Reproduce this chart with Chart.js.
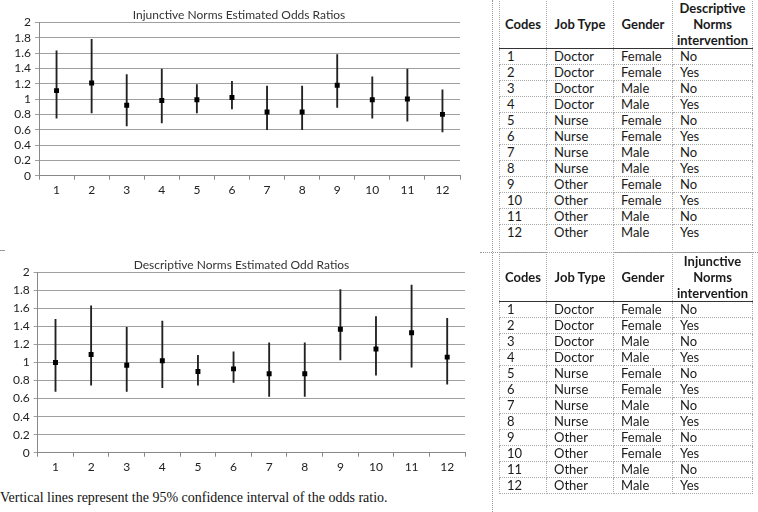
<!DOCTYPE html>
<html>
<head>
<meta charset="utf-8">
<script src="https://cdn.jsdelivr.net/npm/chart.js@4.4.0/dist/chart.umd.min.js"></script>
<style>
  body { margin: 0; width: 758px; height: 512px; background: #fff; position: relative; overflow: hidden; font-family: Lato, sans-serif; }
  canvas { position: absolute; left: 0; }
  #c1 { top: 0; }
  #c2 { top: 250px; }
  .vline { position: absolute; left: 492px; top: 0; height: 512px; border-left: 1px dotted #999; }
  .hline { position: absolute; left: 480px; top: 252px; width: 278px; border-top: 1px dotted #999; }
  .tick { position: absolute; left: 0; top: 250px; width: 5px; border-top: 1px solid #999; }
  table { position: absolute; left: 499px; border-collapse: collapse; table-layout: fixed; font-size: 13px; color: #1a1a1a; }
  #t1 { top: -1px; }
  #t2 { top: 252px; }
  td, th { border: 1px dotted #aaa; padding: 0 0 0 7px; height: 15px; line-height: 15px; white-space: nowrap; text-align: left; }
  th { font-weight: bold; text-align: center; padding: 0; line-height: 16px; height: 47px; border-bottom: 1.5px solid #333; }
  tr.last td { height: 25px; vertical-align: top; border-bottom: none; }
  .note { position: absolute; left: 0; top: 490px; font-family: "Liberation Serif", serif; font-size: 14px; color: #111; }
</style>
</head>
<body>
<canvas id="c1" width="478" height="200"></canvas>
<canvas id="c2" width="483" height="230"></canvas>
<div class="vline"></div>
<div class="hline"></div>
<div class="tick"></div>
<table id="t1"></table>
<table id="t2"></table>
<div class="note">Vertical lines represent the 95% confidence interval of the odds ratio.</div>
<script>
// codes on the x axis / table rows
const codes = ['1', '2', '3', '4', '5', '6', '7', '8', '9', '10', '11', '12'];

// injunctive norms: odds ratio and 95% CI
const injOdds = [1.11, 1.21, 0.92, 0.98, 0.99, 1.02, 0.83, 0.83, 1.18, 0.99, 1.00, 0.80];
const injLow  = [0.75, 0.82, 0.65, 0.69, 0.82, 0.87, 0.60, 0.60, 0.89, 0.75, 0.71, 0.57];
const injHigh = [1.63, 1.78, 1.32, 1.39, 1.19, 1.23, 1.17, 1.17, 1.58, 1.29, 1.39, 1.12];

// descriptive norms: odds ratio and 95% CI
const descOdds = [1.00, 1.09, 0.97, 1.02, 0.90, 0.93, 0.875, 0.875, 1.37, 1.15, 1.33, 1.06];
const descLow  = [0.68, 0.75, 0.68, 0.72, 0.75, 0.78, 0.625, 0.625, 1.03, 0.86, 0.95, 0.76];
const descHigh = [1.48, 1.63, 1.39, 1.46, 1.08, 1.12, 1.22, 1.22, 1.81, 1.51, 1.86, 1.49];

// table columns
const jobTypes = ['Doctor', 'Doctor', 'Doctor', 'Doctor', 'Nurse', 'Nurse', 'Nurse', 'Nurse', 'Other', 'Other', 'Other', 'Other'];
const genders = ['Female', 'Female', 'Male', 'Male', 'Female', 'Female', 'Male', 'Male', 'Female', 'Female', 'Male', 'Male'];
const intervention = ['No', 'Yes', 'No', 'Yes', 'No', 'Yes', 'No', 'Yes', 'No', 'Yes', 'No', 'Yes'];

const yMin = 0, yMax = 2, yStep = 0.2;

const font = { family: 'Lato', size: 12 };

function makeChart(id, title, odds, low, high, opt) {
    const ctx = document.getElementById(id).getContext('2d');
    return new Chart(ctx, {
        type: 'bar',
        data: {
            labels: codes,
            datasets: [{
                type: 'line',
                data: odds,
                showLine: false,
                pointStyle: 'rect',
                pointRadius: 3.5,
                pointBackgroundColor: '#000',
                pointBorderWidth: 0,
                order: 0
            }, {
                type: 'bar',
                data: low.map((l, i) => [l, high[i]]),
                backgroundColor: '#222',
                barThickness: 1.2,
                order: 1
            }]
        },
        options: {
            responsive: false,
            animation: false,
            layout: { padding: 0 },
            plugins: {
                legend: { display: false },
                tooltip: { enabled: false },
                title: {
                    display: true,
                    text: title,
                    color: '#333',
                    font: { family: 'Lato', size: 12, weight: 'normal' },
                    padding: { top: opt.titleTop, bottom: 0 }
                }
            },
            scales: {
                x: {
                    grid: { drawOnChartArea: false, tickLength: 4, color: '#888', offset: true },
                    border: { color: '#888' },
                    ticks: { color: '#222', font: font, padding: 3 },
                    afterFit: s => { s.height = opt.xHeight; }
                },
                y: {
                    min: yMin,
                    max: yMax,
                    ticks: {
                        stepSize: yStep,
                        autoSkip: false,
                        color: '#222',
                        font: font,
                        padding: 4,
                        callback: v => String(Math.round(v * 10) / 10)
                    },
                    grid: { color: '#a0a0a0', tickLength: 4 },
                    border: { color: '#888' },
                    afterFit: s => { s.width = opt.yWidth; }
                },
                // empty space on the right so the title sits where the original has it
                gap: {
                    type: 'linear',
                    position: 'right',
                    grid: { display: false },
                    border: { display: false },
                    ticks: { display: false },
                    afterFit: s => { s.width = opt.gap; }
                }
            }
        }
    });
}

makeChart('c1', 'Injunctive Norms Estimated Odds Ratios', injOdds, injLow, injHigh,
    { titleTop: 8, xHeight: 24.3, yWidth: 39, gap: 18 });
makeChart('c2', 'Descriptive Norms Estimated Odd Ratios', descOdds, descLow, descHigh,
    { titleTop: 8, xHeight: 27.3, yWidth: 37.7, gap: 18 });

function fillTable(id, label) {
    const t = document.getElementById(id);
    let html = '<colgroup><col style="width:47px"><col style="width:67px"><col style="width:59px"><col style="width:80px"></colgroup>';
    html += '<tr><th>Codes</th><th>Job Type</th><th>Gender</th><th>' + label + '<br>Norms<br>intervention</th></tr>';
    codes.forEach((c, i) => {
        const cls = (id === 't1' && i === codes.length - 1) ? ' class="last"' : '';
        html += '<tr' + cls + '><td>' + c + '</td><td>' + jobTypes[i] + '</td><td>' + genders[i] + '</td><td>' + intervention[i] + '</td></tr>';
    });
    t.innerHTML = html;
}
fillTable('t1', 'Descriptive');
fillTable('t2', 'Injunctive');
</script>
</body>
</html>
